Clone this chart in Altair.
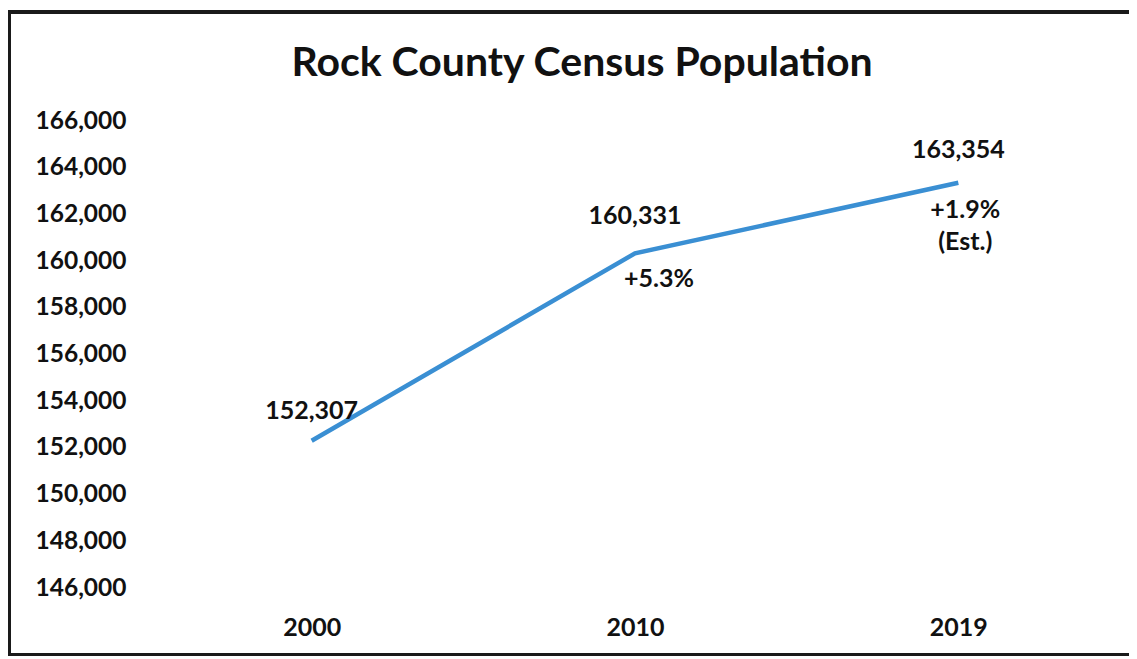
import altair as alt
import pandas as pd

years = ["2000", "2010", "2019"]
population = [152307, 160331, 163354]
value_labels = ["152,307", "160,331", "163,354"]
y_ticks = [146000, 148000, 150000, 152000, 154000, 156000, 158000, 160000, 162000, 164000, 166000]
change_2010 = "+5.3%"
change_2019 = ["+1.9%", "(Est.)"]
title_text = "Rock County Census Population"

df = pd.DataFrame({"year": years, "pop": population, "label": value_labels})

FONT = "Lato"
W, H = 970, 467

x_enc = alt.X("year:O", sort=years, title=None,
              scale=alt.Scale(type="point", padding=0.5),
              axis=alt.Axis(labelAngle=0, domain=False, ticks=False, labelPadding=27,
                            labelFont=FONT, labelFontSize=25, labelFontWeight="bold",
                            labelColor="#111111", grid=False))
y_enc = alt.Y("pop:Q", title=None,
              scale=alt.Scale(domain=[146000, 166000], nice=False, zero=False),
              axis=alt.Axis(values=y_ticks, format=",d", domain=False, ticks=False,
                            labelPadding=24, labelFont=FONT, labelFontSize=24.5,
                            labelFontWeight="bold", labelColor="#111111", grid=False))

base = alt.Chart(df)

line = base.mark_line(color="#3a8fd3", strokeWidth=4.5).encode(x=x_enc, y=y_enc)

txt = dict(font=FONT, fontSize=25, fontWeight="bold", color="#111111", baseline="middle", align="center")
xs = alt.X("year:O", sort=years)

lab2000 = base.transform_filter(alt.datum.year == "2000").mark_text(dy=-30, **txt).encode(
    x=xs, y="pop:Q", text="label:N")
lab2010 = base.transform_filter(alt.datum.year == "2010").mark_text(dy=-37, **txt).encode(
    x=xs, y="pop:Q", text="label:N")
lab2019 = base.transform_filter(alt.datum.year == "2019").mark_text(dy=-33, **txt).encode(
    x=xs, y="pop:Q", text="label:N")

pct2010 = base.transform_filter(alt.datum.year == "2010").mark_text(dx=24, dy=26, **txt).encode(
    x=xs, y="pop:Q", text=alt.value(change_2010))
pct2019a = base.transform_filter(alt.datum.year == "2019").mark_text(dx=7, dy=27, **txt).encode(
    x=xs, y="pop:Q", text=alt.value(change_2019[0]))
pct2019b = base.transform_filter(alt.datum.year == "2019").mark_text(dx=7, dy=59, **txt).encode(
    x=xs, y="pop:Q", text=alt.value(change_2019[1]))

one = pd.DataFrame({"a": [0]})
title = alt.Chart(one).mark_text(font=FONT, fontSize=41, fontWeight="bold", color="#111111",
                                 align="center", baseline="alphabetic").encode(
    x=alt.value(432), y=alt.value(-45), text=alt.value(title_text))

rule_style = dict(color="#1a1a1a", strokeWidth=4)
left_edge = alt.Chart(one).mark_rule(**rule_style).encode(
    x=alt.value(-141), y=alt.value(-111), y2=alt.value(536))
top_edge = alt.Chart(one).mark_rule(**rule_style).encode(
    x=alt.value(-143), x2=alt.value(990), y=alt.value(-109))
bottom_edge = alt.Chart(one).mark_rule(**rule_style).encode(
    x=alt.value(-143), x2=alt.value(990), y=alt.value(534))

chart = alt.layer(line, lab2000, lab2010, lab2019, pct2010, pct2019a, pct2019b, title,
                  left_edge, top_edge, bottom_edge).properties(
    width=W, height=H,
    background="white",
    autosize=alt.AutoSizeParams(type="none"),
    padding={"left": 142, "top": 113, "right": 9, "bottom": 68},
).configure_view(strokeWidth=0, stroke=None)

chart.save("out.html", embed_options={"renderer": "svg", "actions": False})
